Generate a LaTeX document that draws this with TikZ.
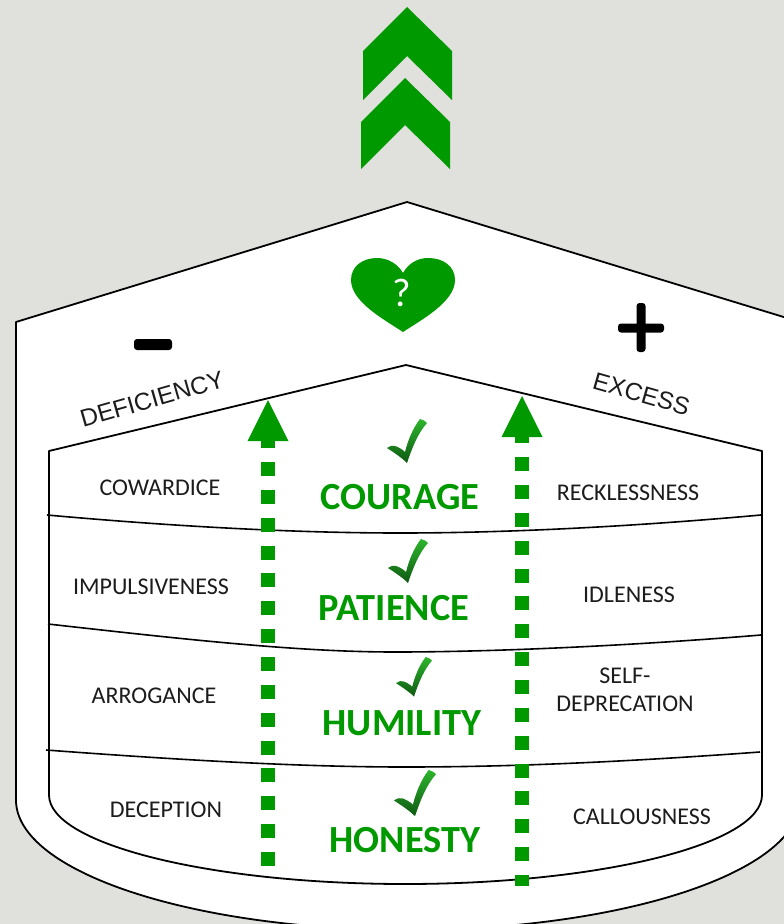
\documentclass[tikz,border=0pt]{standalone}
\usepackage{fontspec}
\setmainfont{Carlito}
\newfontfamily\arialf{Liberation Sans}
\usetikzlibrary{arrows.meta}
\definecolor{bgc}{HTML}{E0E1DC}
\definecolor{grn}{HTML}{009900}
\definecolor{ink}{HTML}{1C1C1C}
\definecolor{tickhi}{HTML}{2DB52D}
\definecolor{ticklo}{HTML}{0F5A12}
\tikzset{
  x=1pt,y=-1pt,
  outline/.style={draw=black,line width=1.8pt,line join=round},
  divider/.style={draw=black,line width=1.6pt},
  vice/.style={text=ink,font=\fontsize{24}{28}\selectfont,align=center,inner sep=0pt},
  virtue/.style={text=grn,font=\fontsize{38.4}{42}\selectfont\bfseries,inner sep=0pt},
  side/.style={text=ink,font=\fontsize{24.5}{27}\selectfont\arialf,inner sep=0pt},
  chev/.style={fill=grn},
  uparrow/.style={draw=grn,line width=14pt,dash pattern=on 14pt off 13.86pt,
     -{Triangle[width=41pt,length=41pt,fill=grn,line width=0pt]}},
  signbar/.style={fill=black,rounded corners=3pt},
}
\newcommand{\tickmark}[3]{%
  \begin{scope}[shift={(#1,#2)},scale=#3]
   \shade[top color=tickhi,bottom color=ticklo]
    (33,0) .. controls (36,1) and (39,2) .. (40,4) .. controls (31,14) and (25,29) .. (20,44)
    .. controls (14,38) and (6,33) .. (0,29) .. controls (3,27) and (6,26) .. (8,27)
    .. controls (11,28) and (15,30) .. (18,33) .. controls (21,21) and (26,9) .. (33,0) -- cycle;
  \end{scope}}
\begin{document}
\begin{tikzpicture}
\useasboundingbox (0,0) rectangle (784,924);
\clip (0,0) rectangle (784,924);
\fill[bgc] (0,0) rectangle (784,924);
% chevrons
\fill[chev] (363,51) -- (407,7) -- (452,51) -- (452,100) -- (407,56) -- (363,100) -- cycle;
\fill[chev] (361,122) -- (405,78) -- (450,122) -- (450,169) -- (405,125) -- (361,169) -- cycle;
% outer house
\path[outline,fill=white] (16,322) -- (407,202) -- (800,322) -- (800,800)
  .. controls (800,872) and (623,930) .. (408,930)
  .. controls (193,930) and (16,872) .. (16,800) -- cycle;
% inner house
\path[outline,fill=white] (49,451) -- (406,365) -- (762,451) -- (762,795)
  .. controls (762,844) and (601,884) .. (405,884)
  .. controls (210,884) and (49,844) .. (49,795) -- cycle;
% dividers
\draw[divider] (47,515) .. controls (180,527) and (300,533) .. (400,533) .. controls (520,533) and (650,525) .. (761,515);
\draw[divider] (48,624) .. controls (190,640) and (300,652) .. (395,652) .. controls (500,652) and (640,645) .. (761,635);
\draw[divider] (46,750) .. controls (180,760) and (300,767) .. (405,767) .. controls (530,767) and (650,760) .. (760,752);
% heart
\fill[grn] (403,332) .. controls (385,320) and (351,302) .. (351,280)
  .. controls (351,266) and (363,258) .. (377,258)
  .. controls (388,258) and (398,264) .. (403,273)
  .. controls (408,264) and (417,258) .. (428,258)
  .. controls (443,258) and (455,266) .. (455,280)
  .. controls (455,302) and (421,320) .. (403,332) -- cycle;
\node[text=white,font=\fontsize{40}{44}\selectfont,inner sep=0pt] (q) at (402,293) {?};
% minus and plus
\fill[black,rounded corners=3pt] (134,339) rectangle (172,350);
\fill[signbar] (618,323.5) rectangle (664,332.5);
\fill[signbar] (636.5,303) rectangle (645.5,352);
% side labels
\node[side,rotate=16] (def) at (152,399) {DEFICIENCY};
\node[side,rotate=-16] (exc) at (641.5,394) {EXCESS};
% arrows
\coordinate (la0) at (268,866);
\coordinate (la1) at (268,400);
\coordinate (ra0) at (522,886);
\coordinate (ra1) at (522,396);
\draw[uparrow] (la0) -- (la1);
\draw[uparrow,dash phase=3pt] (ra0) -- (ra1);
% ticks
\tickmark{387}{419}{1}
\tickmark{388}{539}{1}
\tickmark{396}{657}{.9}
\tickmark{394}{770}{1.05}
% virtues
\node[virtue] (courage) at (400,497) {COURAGE};
\node[virtue] (patience) at (394,608.5) {PATIENCE};
\node[virtue] (humility) at (402,723) {HUMILITY};
\node[virtue] (honesty) at (405,840) {HONESTY};
% vices
\node[vice] (cow) at (160,488) {COWARDICE};
\node[vice] (rec) at (628,493) {RECKLESSNESS};
\node[vice] (imp) at (151,587) {IMPULSIVENESS};
\node[vice] (idl) at (629,595) {IDLENESS};
\node[vice] (arr) at (154,696) {ARROGANCE};
\node[vice] (sel) at (625,690) {SELF-\\DEPRECATION};
\node[vice] (dec) at (166,810) {DECEPTION};
\node[vice] (cal) at (642,817) {CALLOUSNESS};
\end{tikzpicture}
\end{document}
